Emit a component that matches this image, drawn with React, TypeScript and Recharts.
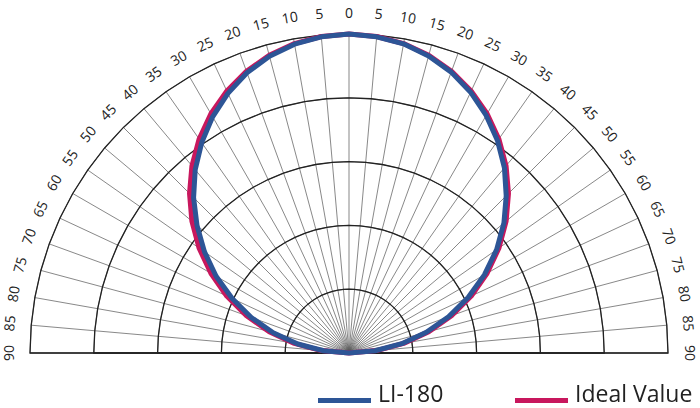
import {
  Legend,
  PolarAngleAxis,
  PolarGrid,
  PolarRadiusAxis,
  Radar,
  RadarChart,
} from "recharts";

// angle from the normal, degrees (left side negative)
const ANGLES = [
  -90, -85, -80, -75, -70, -65, -60, -55, -50, -45, -40, -35, -30, -25, -20,
  -15, -10, -5, 0, 5, 10, 15, 20, 25, 30, 35, 40, 45, 50, 55, 60, 65, 70, 75,
  80, 85, 90,
];

// relative intensity
const LI_180 = [
  0, 0.08, 0.163, 0.246, 0.326, 0.404, 0.481, 0.553, 0.622, 0.689, 0.75,
  0.805, 0.855, 0.898, 0.935, 0.963, 0.983, 0.995, 1, 0.995, 0.984, 0.964,
  0.937, 0.902, 0.86, 0.812, 0.758, 0.697, 0.634, 0.565, 0.49, 0.412, 0.332,
  0.251, 0.168, 0.082, 0,
];

const IDEAL = [
  0, 0.087, 0.174, 0.259, 0.342, 0.423, 0.5, 0.574, 0.643, 0.707, 0.766,
  0.819, 0.866, 0.906, 0.94, 0.966, 0.985, 0.996, 1, 0.996, 0.985, 0.966,
  0.94, 0.906, 0.866, 0.819, 0.766, 0.707, 0.643, 0.574, 0.5, 0.423, 0.342,
  0.259, 0.174, 0.087, 0,
];

const RADIUS_TICKS = [0, 0.2, 0.4, 0.6, 0.8, 1];

const BLUE = "#2d5596";
const RED = "#c8175d";
const FONT = "'Open Sans', 'Noto Sans', sans-serif";

const data = ANGLES.map((angle, i) => ({
  angle,
  li180: LI_180[i],
  ideal: IDEAL[i],
}));

function AngleTick(props: any) {
  const { x, y, payload } = props;
  const v = Number(payload.value);
  return (
    <text
      x={x}
      y={y}
      textAnchor="middle"
      dominantBaseline="central"
      transform={`rotate(${v}, ${x}, ${y})`}
      fontSize={14}
      fontFamily={FONT}
      fill="#222"
    >
      {Math.abs(v)}
    </text>
  );
}

function LegendContent(props: any) {
  // LI-180 first, as in the original legend
  const items = [...(props.payload ?? [])].reverse();
  const spots = [318, 515];
  return (
    <div style={{ position: "relative", width: 700, height: 28 }}>
      {items.map((it: any, i: number) => (
        <div key={it.value}>
          <span
            style={{
              position: "absolute",
              left: spots[i],
              top: 17.5,
              width: 53,
              height: 5,
              background: it.color,
            }}
          />
          <span
            style={{
              position: "absolute",
              left: spots[i] + 60,
              top: 2,
              fontFamily: FONT,
              fontSize: 23,
              lineHeight: "23px",
              color: "#222",
              whiteSpace: "nowrap",
            }}
          >
            {it.value}
          </span>
        </div>
      ))}
    </div>
  );
}

export default function App() {
  return (
    <div style={{ position: "fixed", left: 0, top: 0, background: "#fff" }}>
      <RadarChart
        width={700}
        height={408}
        data={data}
        cx={349}
        cy={353}
        outerRadius={319}
        startAngle={180}
        endAngle={0}
        margin={{ top: 0, right: 0, bottom: 0, left: 0 }}
      >
        <PolarGrid gridType="polygon" stroke="#555" strokeWidth={0.7} />
        <PolarGrid
          gridType="polygon"
          radialLines={false}
          stroke="#222"
          strokeWidth={1.3}
        />
        <PolarAngleAxis
          dataKey="angle"
          type="number"
          domain={[-90, 90]}
          ticks={ANGLES as any}
          tickCount={ANGLES.length}
          tickSize={22}
          tickLine={false}
          axisLine={false}
          tick={<AngleTick />}
        />
        <PolarRadiusAxis
          type="number"
          domain={[0, 1]}
          ticks={RADIUS_TICKS as any}
          tickCount={RADIUS_TICKS.length}
          tick={false}
          axisLine={false}
        />
        <Radar
          name="Ideal Value"
          dataKey="ideal"
          stroke={RED}
          strokeWidth={5}
          strokeLinejoin="round"
          fill="none"
          fillOpacity={0}
          dot={false}
          isAnimationActive={false}
        />
        <Radar
          name="LI-180"
          dataKey="li180"
          stroke={BLUE}
          strokeWidth={5}
          strokeLinejoin="round"
          fill="none"
          fillOpacity={0}
          dot={false}
          isAnimationActive={false}
        />
        <Legend
          content={<LegendContent />}
          wrapperStyle={{ position: "absolute", left: 0, top: 380, width: 700 }}
        />
      </RadarChart>
    </div>
  );
}
